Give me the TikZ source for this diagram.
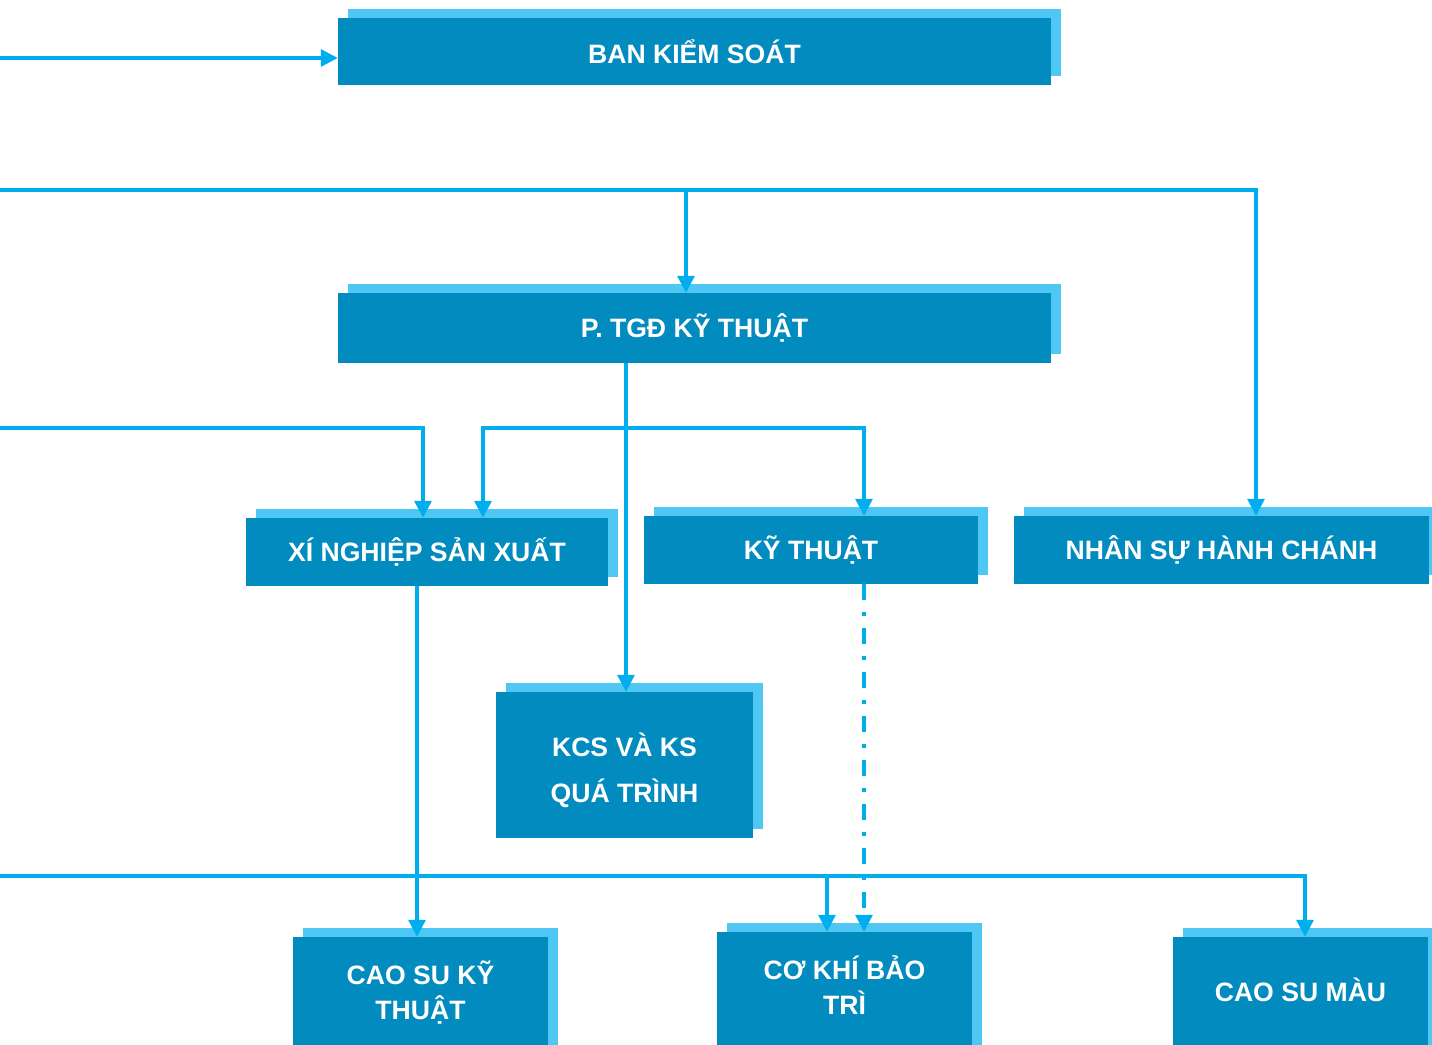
\documentclass[tikz,border=0pt]{standalone}
\usepackage{fontspec}
\setmainfont{Liberation Sans}
\usetikzlibrary{arrows.meta,shadows}
\definecolor{boxc}{HTML}{028BBE}
\definecolor{shadc}{HTML}{4FC7F4}
\definecolor{linec}{HTML}{00AEEF}
\begin{document}
\begin{tikzpicture}[x=1pt,y=-1pt,
  orgfont/.style={text=white, font=\bfseries\fontsize{26.6}{35}\selectfont, align=center},
  orgbox/.style={fill=boxc, draw=none, inner sep=0pt, orgfont,
    copy shadow={shadow xshift=10pt, shadow yshift=9pt, fill=shadc, draw=none}},
  orglabel/.style={orgfont, inner sep=0pt},
  conn/.style={draw=linec, line width=3.2pt, -{Triangle[length=17pt,width=17pt]}},
  dashconn/.style={conn, dash pattern=on 16pt off 12pt on 4pt off 12pt}]
\useasboundingbox (0,0) rectangle (1432,1044);
\clip (0,0) rectangle (1432,1044);
% boxes
\node[orgbox, minimum width=713pt, minimum height=67pt] (bks) at (694.5,51.5) {BAN KIỂM SOÁT};
\node[orgbox, minimum width=713pt, minimum height=70pt] (ptgd) at (694.5,328) {P. TGĐ KỸ THUẬT};
\node[orgbox, minimum width=362pt, minimum height=68pt] (xn) at (427,552) {XÍ NGHIỆP SẢN XUẤT};
\node[orgbox, minimum width=334pt, minimum height=68pt] (kt) at (811,550) {KỸ THUẬT};
\node[orgbox, minimum width=415pt, minimum height=68pt] (ns) at (1221.5,550) {NHÂN SỰ HÀNH CHÁNH};
\node[orgbox, minimum width=257pt, minimum height=146pt,
  label={[orglabel, font=\bfseries\fontsize{26.6}{46}\selectfont, yshift=-5pt]center:{KCS VÀ KS\\QUÁ TRÌNH}}] (kcs) at (624.5,765) {};
\node[orgbox, minimum width=255pt, minimum height=130pt,
  label={[orglabel, yshift=9.5pt]center:{CAO SU KỸ\\THUẬT}}] (csk) at (420.5,1002) {};
\node[orgbox, minimum width=255pt, minimum height=130pt,
  label={[orglabel, yshift=12pt]center:{CƠ KHÍ BẢO\\TRÌ}}] (ck) at (844.5,997) {};
\node[orgbox, minimum width=255pt, minimum height=130pt,
  label={[orglabel, yshift=12pt]center:{CAO SU MÀU}}] (csm) at (1300.5,1002) {};
% connectors
\coordinate (s1) at (0,58);
\draw[conn] (s1) -- (s1 -| bks.west);
\coordinate (s2) at (0,190);
\coordinate (j1) at (686,190);
\draw[conn] (s2) -| ([xshift=34.5pt]ns.north);
\draw[conn] (j1) -- (j1 |- ptgd.north);
\draw[conn] ([xshift=-68.5pt]ptgd.south) -- ([xshift=1.5pt]kcs.north);
\coordinate (j2) at (626,428);
\draw[conn] (j2) -| ([xshift=56pt]xn.north);
\draw[conn] (j2) -| ([xshift=53pt]kt.north);
\coordinate (s3) at (0,428);
\draw[conn] (s3) -| ([xshift=-4pt]xn.north);
\draw[conn] ([xshift=-10pt]xn.south) -- ([xshift=-3.5pt]csk.north);
\draw[dashconn] ([xshift=53pt]kt.south) -- ([xshift=19.5pt]ck.north);
\coordinate (s4) at (0,876);
\coordinate (j3) at (827,876);
\draw[conn] (s4) -| ([xshift=4.5pt]csm.north);
\draw[conn] (j3) -- ([xshift=-17.5pt]ck.north);
\end{tikzpicture}
\end{document}
